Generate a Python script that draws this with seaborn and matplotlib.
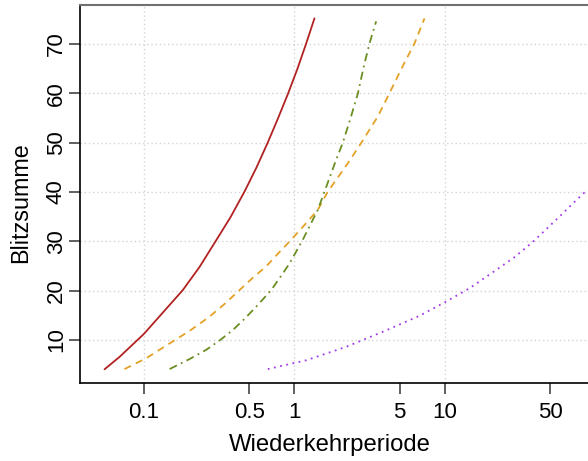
import matplotlib
matplotlib.use("Agg")
import matplotlib.pyplot as plt
import pandas as pd
import seaborn as sns

# --- Daten ---
red_x = [0.0547, 0.0687, 0.0997, 0.133, 0.181, 0.234, 0.30, 0.376, 0.466, 0.560,
         0.664, 0.779, 0.908, 1.047, 1.196, 1.358]
red_y = [4.06, 6.55, 11.2, 15.5, 20.1, 24.8, 30.07, 34.9, 40.1, 45.0,
         50.0, 55.0, 60.0, 65.0, 70.1, 75.2]

orange_x = [0.0742, 0.1035, 0.148, 0.200, 0.272, 0.343, 0.431, 0.528, 0.648, 0.771,
            0.95, 1.165, 1.43, 1.66, 2.26, 2.77, 3.58, 4.50, 5.38, 6.27, 7.31]
orange_y = [4.1, 6.3, 9.3, 11.8, 14.7, 17.3, 20.1, 22.6, 24.9, 27.4,
            30.3, 33.3, 36.4, 40.0, 45.8, 49.9, 55.3, 61.4, 66.2, 70.1, 75.2]

green_x = [0.148, 0.200, 0.259, 0.318, 0.389, 0.466, 0.557, 0.70, 0.807, 0.927,
           1.135, 1.43, 1.58, 1.89, 2.09, 2.36, 2.64, 2.87, 3.15, 3.49]
green_y = [4.1, 6.1, 8.0, 9.9, 12.0, 14.3, 16.75, 20.1, 22.8, 25.5,
           30.3, 36.4, 40.0, 46.5, 49.9, 55.0, 60.0, 65.1, 70.1, 74.6]

purple_x = [0.665, 1.20, 2.2, 3.96, 6.77, 10.2, 14.6, 21.9, 29.0, 37.4,
            46.5, 57.6, 70.3, 84.5, 88.5]
purple_y = [4.1, 5.9, 8.6, 11.8, 14.9, 17.8, 20.5, 24.2, 26.8, 29.6,
            32.3, 35.0, 37.6, 39.9, 40.3]

xticks = [0.1, 0.5, 1, 5, 10, 50]
xticklabels = ["0.1", "0.5", "1", "5", "10", "50"]
yticks = [10, 20, 30, 40, 50, 60, 70]

# --- Stil ---
sns.set_style("white")
plt.rcParams["font.family"] = ["Liberation Sans", "DejaVu Sans"]
plt.rcParams["text.color"] = "black"
plt.rcParams["axes.labelcolor"] = "black"
plt.rcParams["xtick.labelcolor"] = "black"
plt.rcParams["ytick.labelcolor"] = "black"

fig = plt.figure(figsize=(5.88, 4.61), dpi=100)
ax = fig.add_axes([80 / 588, 78 / 461, 675 / 588, 378 / 461])

# Gitter
for v in [0.1, 1, 10, 100]:
    ax.axvline(v, color="#D3D3D3", lw=1, ls=(0, (1, 2)), zorder=0)
for h in yticks:
    ax.axhline(h, color="#D3D3D3", lw=1, ls=(0, (1, 2)), zorder=0)

curves = [
    (red_x, red_y, "#B22222", "-"),
    (orange_x, orange_y, "#E3A227", (0, (4, 3))),
    (green_x, green_y, "#6B8E23", (0, (4.5, 2.5, 1, 2.5))),
    (purple_x, purple_y, "#A23BE8", (0, (1, 2.5))),
]
for xs, ys, col, ls in curves:
    df = pd.DataFrame({"x": xs, "y": ys})
    sns.lineplot(data=df, x="x", y="y", ax=ax, color=col, lw=1.3,
                 linestyle=ls, estimator=None)

ax.set_xscale("log")
ax.set_xlim(10 ** -1.425, 10 ** 3.06)
ax.set_ylim(1.28, 77.91)

ax.set_xticks(xticks)
ax.set_xticklabels(xticklabels)
ax.minorticks_off()
ax.set_yticks(yticks)
ax.set_yticklabels([str(t) for t in yticks], rotation=90, va="center")

ax.tick_params(axis="both", direction="out", length=8, width=1.2,
               color="#444444", labelcolor="black", labelsize=16,
               left=True, bottom=True)
ax.tick_params(axis="x", pad=6)
ax.tick_params(axis="y", pad=1.5)

for s in ["left", "bottom"]:
    ax.spines[s].set_color("black")
    ax.spines[s].set_linewidth(1.2)
ax.spines["top"].set_color("#707070")
ax.spines["top"].set_linewidth(1.5)
ax.spines["right"].set_visible(False)

ax.set_xlabel("Wiederkehrperiode", fontsize=17.2, color="black")
ax.set_ylabel("Blitzsumme", fontsize=16.8, color="black")
ax.xaxis.set_label_coords(0.3696, -0.134)
ax.yaxis.set_label_coords(-0.0711, 0.476)

fig.savefig("out.png", dpi=100)
